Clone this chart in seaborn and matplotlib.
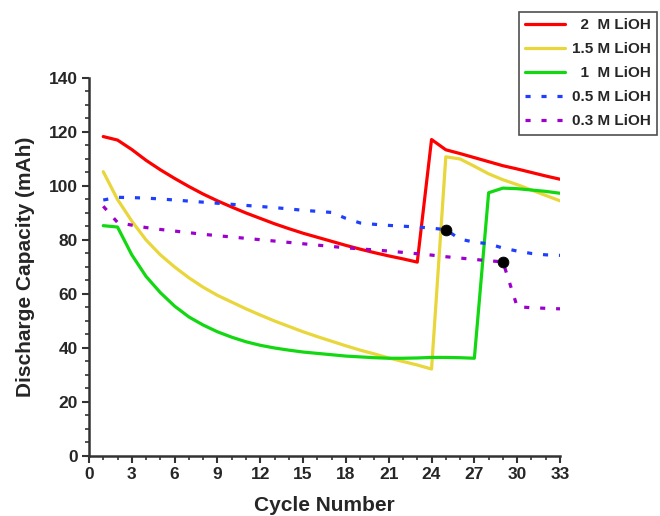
import matplotlib
matplotlib.use("Agg")
import matplotlib.pyplot as plt
import seaborn as sns
import pandas as pd
from matplotlib.ticker import MultipleLocator

cycles = list(range(1, 34))
cap_2M = [118.3, 117.0, 113.5, 109.5, 106.0, 102.8, 99.8, 97.0, 94.5, 92.2, 90.0, 88.0, 86.0,
          84.2, 82.5, 81.0, 79.5, 78.0, 76.6, 75.3, 74.1, 73.0, 71.8, 117.2, 113.4, 112.0,
          110.5, 109.0, 107.5, 106.3, 105.0, 103.7, 102.5]
cap_1_5M = [105.3, 95.0, 87.0, 80.0, 74.5, 70.0, 66.0, 62.5, 59.5, 57.0, 54.5, 52.2, 50.0,
            48.0, 46.0, 44.2, 42.5, 40.8, 39.2, 37.8, 36.3, 35.0, 33.7, 32.2, 110.8, 110.0,
            107.3, 104.5, 102.3, 100.5, 98.5, 96.5, 94.5]
cap_1M = [85.3, 84.8, 74.5, 66.5, 60.5, 55.5, 51.5, 48.5, 46.0, 44.0, 42.3, 41.0, 40.0,
          39.2, 38.5, 38.0, 37.5, 37.0, 36.7, 36.4, 36.2, 36.2, 36.3, 36.5, 36.5, 36.4,
          36.2, 97.5, 99.2, 99.0, 98.5, 98.0, 97.3]
cap_0_5M = [94.8, 95.8, 95.7, 95.5, 95.2, 94.8, 94.4, 94.0, 93.6, 93.2, 92.8, 92.4, 92.0,
            91.5, 91.0, 90.6, 90.2, 88.0, 86.3, 85.8, 85.4, 85.1, 84.8, 84.4, 83.8, 80.3,
            79.2, 78.6, 77.0, 75.9, 75.0, 74.5, 74.3]
cap_0_3M = [92.5, 86.5, 85.5, 84.6, 83.9, 83.3, 82.7, 82.1, 81.6, 81.1, 80.6, 80.1, 79.6,
            79.1, 78.6, 78.1, 77.6, 77.1, 76.7, 76.3, 75.9, 75.4, 74.9, 74.4, 73.8, 73.3,
            72.8, 72.3, 71.9, 55.3, 54.9, 54.7, 54.5]

labels = ["  2  M LiOH", "1.5 M LiOH", "  1  M LiOH", "0.5 M LiOH", "0.3 M LiOH"]
colors = ["#ff0000", "#e8d63a", "#11d811", "#1f3fff", "#9b00cc"]
dotted = (0, (1.6, 3.4))
styles = ["-", "-", "-", dotted, dotted]

marker_x = [25, 29]
marker_y = [83.8, 71.9]

series = [cap_2M, cap_1_5M, cap_1M, cap_0_5M, cap_0_3M]

sns.set_style("white")
plt.rcParams['font.family'] = ['Liberation Sans', 'DejaVu Sans']
plt.rcParams['font.weight'] = 'bold'

fig = plt.figure(figsize=(6.6, 5.16), dpi=100)
ax = fig.add_axes([0.1348, 0.1163, 0.7137, 0.7326])

for vals, lab, col, ls in zip(series, labels, colors, styles):
    df = pd.DataFrame({"cycle": cycles, "cap": vals})
    sns.lineplot(data=df, x="cycle", y="cap", ax=ax, color=col, linewidth=2.3,
                 label=lab, linestyle=ls)

sns.scatterplot(x=marker_x, y=marker_y, ax=ax, color="black", s=60, zorder=5,
                edgecolor="black", legend=False)

ax.set_xlim(0, 33)
ax.set_ylim(0, 140)
ax.xaxis.set_major_locator(MultipleLocator(3))
ax.xaxis.set_minor_locator(MultipleLocator(1))
ax.yaxis.set_major_locator(MultipleLocator(20))
ax.yaxis.set_minor_locator(MultipleLocator(5))
for s in ["top", "right"]:
    ax.spines[s].set_visible(False)
for s in ["left", "bottom"]:
    ax.spines[s].set_color("#333333")
    ax.spines[s].set_linewidth(1.8)
ax.tick_params(axis="both", which="major", direction="out", length=5, width=1.5,
               color="#333333", labelsize=12.5, bottom=True, left=True, pad=3)
ax.tick_params(axis="both", which="minor", direction="out", length=3, width=1.2,
               color="#333333", bottom=True, left=True)
for t in ax.get_xticklabels() + ax.get_yticklabels():
    t.set_fontweight("bold")

ax.set_xlabel("Cycle Number", fontsize=15, fontweight="bold", labelpad=10)
ax.set_ylabel("Discharge Capacity (mAh)", fontsize=15, fontweight="bold", labelpad=10)

leg = ax.legend(loc="upper right", bbox_to_anchor=(657 / 660, 1 - 12 / 516),
                bbox_transform=fig.transFigure, borderaxespad=0, frameon=True,
                fancybox=False, edgecolor="#222222", handlelength=2.6,
                borderpad=0.4, labelspacing=0.66, handletextpad=0.45,
                prop={"family": "Liberation Sans", "size": 11, "weight": "bold"})
leg.get_frame().set_linewidth(1.2)

fig.savefig("out.png", dpi=100)
